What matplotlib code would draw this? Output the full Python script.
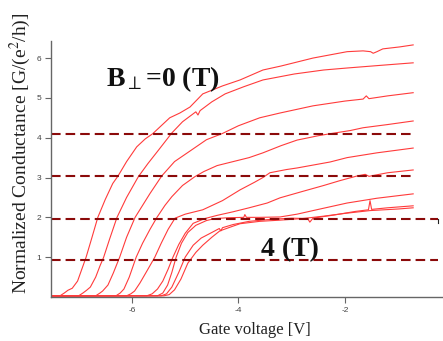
import matplotlib.pyplot as plt

plt.rcParams['axes.unicode_minus'] = False
plt.rcParams['mathtext.fontset'] = 'stix'

# gate voltage [V] / normalized conductance, one trace per field value
A_v = [-7.52, -7.35, -7.27, -7.20, -7.12, -7.02, -6.94, -6.86, -6.76, -6.64, -6.50, -6.36, -6.26, -6.10,
       -5.91, -5.75, -5.61, -5.45, -5.29, -5.10, -4.91, -4.67, -4.30, -3.97, -3.54, -3.20, -2.90, -2.60,
       -2.28, -1.96, -1.66, -1.52, -1.47, -1.40, -1.29, -0.97, -0.72]
A_g = [0.03, 0.03, 0.10, 0.17, 0.22, 0.40, 0.70, 1.00, 1.45, 2.00, 2.45, 2.85, 3.04, 3.40,
       3.77, 3.97, 4.10, 4.30, 4.50, 4.62, 4.77, 5.10, 5.30, 5.45, 5.70, 5.80, 5.90, 6.00,
       6.08, 6.16, 6.18, 6.16, 6.12, 6.16, 6.23, 6.28, 6.33]

B_v = [-7.52, -7.00, -6.92, -6.85, -6.78, -6.68, -6.60, -6.53, -6.42, -6.28, -6.10, -5.88, -5.70, -5.50,
       -5.25, -5.05, -4.85, -4.80, -4.76, -4.72, -4.50, -4.25, -3.90, -3.54, -2.95, -2.40, -1.96, -1.30, -0.72]
B_g = [0.03, 0.03, 0.10, 0.17, 0.25, 0.50, 0.78, 1.00, 1.45, 2.00, 2.50, 3.02, 3.35, 3.69,
       4.12, 4.40, 4.60, 4.65, 4.57, 4.68, 4.90, 5.10, 5.28, 5.45, 5.60, 5.70, 5.75, 5.82, 5.88]

C_v = [-7.52, -6.68, -6.60, -6.55, -6.45, -6.35, -6.23, -6.10, -5.94, -5.80, -5.66, -5.44, -5.20, -4.85,
       -4.60, -4.31, -4.00, -3.60, -3.22, -2.60, -2.00, -1.66, -1.60, -1.55, -1.20, -0.72]
C_g = [0.03, 0.03, 0.10, 0.15, 0.30, 0.60, 1.00, 1.50, 2.00, 2.30, 2.60, 3.04, 3.40, 3.72,
       3.95, 4.10, 4.30, 4.50, 4.62, 4.80, 4.92, 4.97, 5.05, 4.98, 5.05, 5.13]

D_v = [-7.52, -6.30, -6.22, -6.15, -6.05, -5.92, -5.80, -5.66, -5.53, -5.38, -5.25, -5.05, -4.82, -4.65,
       -4.40, -4.10, -3.80, -3.54, -3.20, -2.90, -2.50, -2.28, -1.90, -1.66, -1.20, -0.72]
D_g = [0.03, 0.03, 0.10, 0.20, 0.50, 1.00, 1.35, 1.70, 2.00, 2.30, 2.52, 2.80, 3.02, 3.15,
       3.30, 3.40, 3.50, 3.62, 3.80, 3.94, 4.05, 4.10, 4.18, 4.25, 4.33, 4.42]

E_v = [-7.52, -6.10, -6.02, -5.95, -5.85, -5.72, -5.57, -5.45, -5.32, -5.19, -5.00, -4.67, -4.30, -3.97,
       -3.70, -3.54, -3.41, -3.10, -2.90, -2.28, -1.96, -1.40, -0.72]
E_g = [0.03, 0.03, 0.08, 0.15, 0.35, 0.65, 1.00, 1.35, 1.70, 1.98, 2.08, 2.19, 2.42, 2.69,
       2.88, 3.00, 3.12, 3.20, 3.24, 3.39, 3.50, 3.62, 3.74]

F_v = [-7.52, -5.72, -5.62, -5.52, -5.42, -5.32, -5.23, -5.12, -5.00, -4.85, -4.63, -4.40, -4.10, -3.80,
       -3.46, -3.22, -2.80, -2.40, -2.10, -1.77, -1.62, -1.55, -1.20, -0.72]
F_g = [0.03, 0.03, 0.08, 0.20, 0.40, 0.70, 1.00, 1.32, 1.60, 1.85, 1.97, 2.05, 2.14, 2.24,
       2.36, 2.49, 2.65, 2.80, 2.92, 3.04, 3.08, 3.03, 3.12, 3.19]

G_v = [-7.52, -5.52, -5.42, -5.33, -5.25, -5.17, -5.07, -4.95, -4.80, -4.60, -4.44, -4.20, -3.90, -3.88,
       -3.85, -3.60, -3.22, -2.90, -2.50, -1.96, -1.40, -0.72]
G_g = [0.03, 0.03, 0.10, 0.30, 0.62, 1.00, 1.35, 1.62, 1.80, 1.92, 1.97, 1.99, 2.00, 2.07,
       2.00, 2.00, 2.01, 2.08, 2.20, 2.36, 2.48, 2.59]

H_v = [-7.52, -5.45, -5.35, -5.25, -5.12, -5.00, -4.85, -4.70, -4.50, -4.36, -4.33, -4.30, -4.10, -3.80,
       -3.40, -3.00, -2.70, -2.66, -2.60, -2.20, -1.80, -1.56, -1.53, -1.50, -1.20, -0.72]
H_g = [0.03, 0.03, 0.08, 0.25, 0.62, 1.00, 1.30, 1.48, 1.62, 1.72, 1.66, 1.74, 1.82, 1.90,
       1.95, 1.98, 1.97, 1.88, 1.98, 2.06, 2.15, 2.19, 2.42, 2.20, 2.24, 2.29]

I_v = [-7.52, -5.40, -5.30, -5.20, -5.08, -4.95, -4.80, -4.67, -4.50, -4.35, -4.10, -3.97, -3.60, -3.22,
       -2.80, -2.40, -2.00, -1.53, -1.00, -0.72]
I_g = [0.03, 0.03, 0.06, 0.18, 0.45, 0.85, 1.12, 1.30, 1.50, 1.66, 1.78, 1.84, 1.90, 1.93,
       1.97, 2.03, 2.10, 2.17, 2.21, 2.24]

traces = [(A_v, A_g), (B_v, B_g), (C_v, C_g), (D_v, D_g), (E_v, E_g),
          (F_v, F_g), (G_v, G_g), (H_v, H_g), (I_v, I_g)]

# dashed guide levels and where they stop
guide_levels = [4.10, 3.04, 1.96, 0.93]
guide_ends = [-0.76, -0.76, -0.25, -0.25]

xticks = [-6, -4, -2]
yticks = [1, 2, 3, 4, 5, 6]

fig = plt.figure(figsize=(4.43, 3.41), dpi=100)
ax = fig.add_axes([0.115, 0.129, 0.885, 0.751])

for v, g in traces:
    ax.plot(v, g, color='#ff3b3b', lw=0.8)

for lev, end in zip(guide_levels, guide_ends):
    ax.plot([-7.52, end], [lev, lev], color='#8b0a0a', lw=1.5, dashes=(4.6, 2.4))
# small hook at the end of the 2 line
ax.plot([-0.25, -0.25], [1.96, 1.86], color='#222222', lw=0.8)

ax.set_xlim(-7.52, -0.16)
ax.set_ylim(0, 6.43)
ax.set_xticks(xticks)
ax.set_yticks(yticks)
ax.set_xticklabels([str(t) for t in xticks])
ax.set_yticklabels([str(t) for t in yticks])

for s in ['top', 'right']:
    ax.spines[s].set_visible(False)
for s in ['left', 'bottom']:
    ax.spines[s].set_color('#666666')
    ax.spines[s].set_linewidth(1.0)
ax.tick_params(direction='out', length=4, width=0.8, color='#666666',
               labelsize=6, labelcolor='#444444', pad=3)
for lab in ax.get_xticklabels() + ax.get_yticklabels():
    lab.set_family('Liberation Sans')

ax.text(-6.48, 5.30, r'B$_{\perp}$=0 (T)', family='Liberation Serif', fontweight='bold',
        fontsize=20, color='#111111')
ax.text(-3.57, 1.03, '4 (T)', family='Liberation Serif', fontweight='bold',
        fontsize=20, color='#111111')

fig.text(0.046, 0.55, r'Normalized Conductance [G/(e$^2$/h)]', rotation=90,
         family='Liberation Serif', fontsize=14, color='#222222', ha='center', va='center')
fig.text(0.575, 0.032, 'Gate voltage [V]', family='Liberation Serif', fontsize=12,
         color='#222222', ha='center', va='center')

fig.savefig('out.png', dpi=100)
